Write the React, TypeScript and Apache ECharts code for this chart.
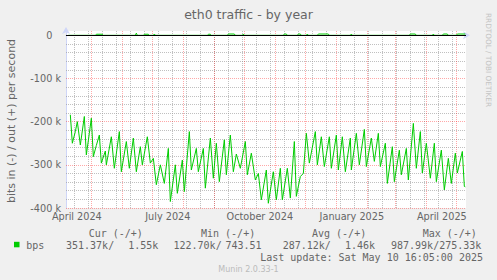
import React, { useEffect, useRef } from "react";
import * as echarts from "echarts";

const START = "2024-04-05T16:05:00Z";
const END = "2025-05-10T16:05:00Z";

const TITLE = "eth0 traffic - by year";
const UNIT_LABEL = "bits in (-) / out (+) per second";
const WATERMARK = "RRDTOOL / TOBI OETIKER";
const VERSION = "Munin 2.0.33-1";

// daily-average "in" traffic (kbit/s, drawn negative)
const inDates = [
  "2024-04-10", "2024-04-12", "2024-04-15", "2024-04-17", "2024-04-20", "2024-04-24", "2024-04-26", "2024-04-29",
  "2024-05-01", "2024-05-03", "2024-05-06", "2024-05-09", "2024-05-11", "2024-05-15", "2024-05-16", "2024-05-21", "2024-05-24", "2024-05-29", "2024-05-31",
  "2024-06-05", "2024-06-08", "2024-06-12", "2024-06-15", "2024-06-19", "2024-06-21", "2024-06-26", "2024-06-29",
  "2024-07-02", "2024-07-05", "2024-07-09", "2024-07-13", "2024-07-17", "2024-07-19", "2024-07-24", "2024-07-26", "2024-07-31",
  "2024-08-02", "2024-08-07", "2024-08-09", "2024-08-14", "2024-08-16", "2024-08-21", "2024-08-23", "2024-08-28", "2024-08-31",
  "2024-09-03", "2024-09-06", "2024-09-11", "2024-09-13", "2024-09-17", "2024-09-20", "2024-09-23", "2024-09-27",
  "2024-10-02", "2024-10-04", "2024-10-08", "2024-10-12", "2024-10-15", "2024-10-18", "2024-10-23", "2024-10-25", "2024-10-30",
  "2024-11-02", "2024-11-06", "2024-11-08", "2024-11-13", "2024-11-16", "2024-11-20", "2024-11-22", "2024-11-26", "2024-11-29",
  "2024-12-02", "2024-12-05", "2024-12-11", "2024-12-13", "2024-12-17", "2024-12-20", "2024-12-25", "2024-12-27",
  "2025-01-01", "2025-01-03", "2025-01-07", "2025-01-10", "2025-01-15", "2025-01-16", "2025-01-21", "2025-01-24", "2025-01-29", "2025-01-31",
  "2025-02-05", "2025-02-08", "2025-02-12", "2025-02-14", "2025-02-19", "2025-02-21", "2025-02-26", "2025-02-28",
  "2025-03-05", "2025-03-07", "2025-03-12", "2025-03-14", "2025-03-19", "2025-03-22", "2025-03-26", "2025-03-28",
  "2025-04-01", "2025-04-05", "2025-04-09", "2025-04-11", "2025-04-16", "2025-04-19", "2025-04-23", "2025-04-26", "2025-04-30",
  "2025-05-02", "2025-05-07", "2025-05-09", "2025-05-10",
];
const inValues = [
  -184, -250, -223, -200, -254, -188, -277, -227,
  -192, -281, -255, -231, -296, -268, -300, -235, -308, -223, -316,
  -246, -308, -238, -316, -258, -300, -235, -296,
  -285, -346, -300, -343, -262, -385, -300, -366, -289,
  -362, -223, -312, -262, -316, -262, -354, -238, -331,
  -250, -339, -242, -323, -231, -316, -275, -308,
  -246, -323, -273, -335, -320, -381, -312, -389, -316,
  -381, -308, -381, -308, -377, -246, -373, -327, -320,
  -227, -296, -223, -300, -235, -304, -235, -308,
  -231, -312, -235, -316, -238, -312, -227, -300, -218, -304,
  -238, -292, -227, -304, -250, -343, -258, -339,
  -266, -323, -262, -335, -204, -308, -223, -319,
  -250, -331, -250, -339, -266, -358, -285, -343, -273,
  -319, -269, -350, -351,
];

// daily-average "out" traffic (kbit/s, drawn positive)
const outDates = [
  "2024-04-08", "2024-05-05", "2024-05-06", "2024-05-12", "2024-05-13",
  "2024-06-14", "2024-06-15", "2024-06-16",
  "2024-06-22", "2024-06-23", "2024-06-27", "2024-06-28",
  "2024-07-02", "2024-07-03", "2024-07-04",
  "2024-08-25", "2024-08-26", "2024-08-28", "2024-08-29",
  "2024-09-14", "2024-09-15", "2024-09-21", "2024-09-22",
  "2024-09-29", "2024-09-30", "2024-10-01",
  "2024-11-09", "2024-11-10", "2024-11-12", "2024-11-13",
  "2024-11-23", "2024-11-24", "2024-11-26", "2024-11-27",
  "2024-12-02", "2024-12-03", "2024-12-04",
  "2024-12-13", "2024-12-14", "2024-12-24", "2024-12-25",
  "2025-01-15", "2025-01-16", "2025-01-17",
  "2025-03-15", "2025-03-16", "2025-03-21", "2025-03-22",
  "2025-04-07", "2025-04-08", "2025-04-09",
  "2025-04-17", "2025-04-18", "2025-04-22", "2025-04-23",
  "2025-05-01", "2025-05-02", "2025-05-10",
];
const outValues = [
  0, 0, 2.5, 2.5, 0,
  0, 5, 0,
  0, 2.5, 2.5, 0,
  0, 3, 0,
  0, 2.5, 2.5, 0,
  0, 3, 3, 0,
  0, 3, 0,
  0, 3, 3, 0,
  0, 3, 3, 0,
  0, 3, 0,
  0, 3, 3, 0,
  0, 3, 0,
  0, 3, 3, 0,
  0, 3, 0,
  0, 3, 3, 0,
  0, 3, 3,
];

const monthStarts = [
  "2024-05-01", "2024-06-01", "2024-07-01", "2024-08-01", "2024-09-01", "2024-10-01", "2024-11-01",
  "2024-12-01", "2025-01-01", "2025-02-01", "2025-03-01", "2025-04-01", "2025-05-01",
];
const minorGridDates = [
  "2024-04-14", "2024-04-28", "2024-05-12", "2024-05-26", "2024-06-09", "2024-06-23", "2024-07-07",
  "2024-07-21", "2024-08-04", "2024-08-18", "2024-09-01", "2024-09-15", "2024-09-29", "2024-10-13",
  "2024-10-27", "2024-11-10", "2024-11-24", "2024-12-08", "2024-12-22", "2025-01-05", "2025-01-19",
  "2025-02-02", "2025-02-16", "2025-03-02", "2025-03-16", "2025-03-30", "2025-04-13", "2025-04-27",
];
const xLabelDates = ["2024-04-16T12:00:00Z", "2024-07-16T12:00:00Z", "2024-10-16T12:00:00Z", "2025-01-16T12:00:00Z", "2025-04-16T12:00:00Z"];
const xLabelTexts = ["April 2024", "July 2024", "October 2024", "January 2025", "April 2025"];

const legendHeaders = ["Cur (-/+)", "Min (-/+)", "Avg (-/+)", "Max (-/+)"];
const legendName = "bps";
const legendValues = ["351.37k/", "1.55k", "122.70k/", "743.51", "287.12k/", "1.46k", "987.99k/275.33k"];
const lastUpdate = "Last update: Sat May 10 16:05:00 2025";

const Y_MIN = -400000;
const Y_MAX = 10000;
const Y_MINOR = 20000;
const Y_MAJOR = 100000;

const SANS = "DejaVu Sans";
const MONO = "DejaVu Sans Mono";
const TEXT = "#666666";
const GREEN = "#00cc00";
const AXIS = "#cfd6f8";
const MGRID = "rgba(255,0,0,0.34)";
const GRID = "rgba(150,150,150,0.6)";

const PLOT = { left: 66, top: 31, width: 400, height: 177 };

const ts = (s: string) => Date.parse(s.length === 10 ? s + "T00:00:00Z" : s);

export default function App() {
  const ref = useRef<HTMLDivElement>(null);

  useEffect(() => {
    if (!ref.current) return;
    const chart = echarts.init(ref.current, undefined, { renderer: "svg" });

    const labelTs = xLabelDates.map(ts);
    const yMajorLines: number[] = [];
    const yMinorLines: number[] = [];
    for (let v = Y_MIN; v <= 0; v += Y_MINOR) (v % Y_MAJOR === 0 ? yMajorLines : yMinorLines).push(v);

    const gridMarkLine = (z: number, color: string, xs: number[], ys: number[]) => ({
      z,
      silent: true,
      symbol: "none",
      label: { show: false },
      emphasis: { disabled: true },
      lineStyle: { color, type: [1, 1], width: 1 },
      data: [...xs.map((x) => ({ xAxis: x })), ...ys.map((y) => ({ yAxis: y }))],
    });

    const monoText = (text: string, x: number, y: number, align: string = "left") => ({
      type: "text",
      x,
      y,
      silent: true,
      style: { text, fontFamily: MONO, fontSize: 10, fill: TEXT, align, verticalAlign: "middle" },
    });

    const option: any = {
      animation: false,
      backgroundColor: "#f0f0f0",
      grid: { ...PLOT, show: false, containLabel: false },
      xAxis: {
        type: "value",
        min: ts(START),
        max: ts(END),
        axisLine: {
          show: true,
          lineStyle: { color: AXIS, width: 1 },
          symbol: ["none", "arrow"],
          symbolSize: [6, 7],
          symbolOffset: [0, 4],
        },
        axisTick: { show: false, customValues: monthStarts.map(ts) },
        axisLabel: {
          customValues: labelTs,
          formatter: (v: number) => {
            const i = labelTs.indexOf(v);
            return i >= 0 ? xLabelTexts[i] : "";
          },
          color: TEXT,
          fontFamily: SANS,
          fontSize: 9.7,
          margin: 3,
        },
        splitLine: { show: false },
      },
      yAxis: {
        type: "value",
        min: Y_MIN,
        max: Y_MAX,
        interval: Y_MINOR,
        axisLine: {
          show: true,
          lineStyle: { color: AXIS, width: 1 },
          symbol: ["none", "arrow"],
          symbolSize: [6, 7],
          symbolOffset: [0, 4],
        },
        axisTick: { show: false },
        axisLabel: {
          formatter: (v: number) => {
            if (v > 0 || v % Y_MAJOR !== 0) return "";
            if (v === 0) return "{z|0}";
            return `${v / 1000} k`;
          },
          color: TEXT,
          fontFamily: SANS,
          fontSize: 9.7,
          margin: 5,
          rich: { z: { color: TEXT, fontFamily: SANS, fontSize: 9.7, padding: [0, 8.7, 0, 0] } },
        },
        splitLine: { show: false },
      },
      series: [
        {
          name: "grid-minor",
          type: "line",
          data: [],
          silent: true,
          markLine: gridMarkLine(3, GRID, minorGridDates.map(ts), yMinorLines),
        },
        {
          name: "grid-major",
          type: "line",
          data: [],
          silent: true,
          markLine: gridMarkLine(4, MGRID, monthStarts.map(ts), yMajorLines),
        },
        {
          name: "in",
          type: "line",
          data: inDates.map((d, i) => [ts(d), inValues[i] * 1000]),
          showSymbol: false,
          symbol: "none",
          lineStyle: { color: GREEN, width: 1 },
          silent: true,
          z: 6,
        },
        {
          name: "out",
          type: "line",
          data: outDates.map((d, i) => [ts(d), outValues[i] * 1000]),
          showSymbol: false,
          symbol: "none",
          lineStyle: { color: GREEN, width: 1 },
          silent: true,
          z: 6,
          markLine: {
            z: 7,
            silent: true,
            symbol: "none",
            label: { show: false },
            emphasis: { disabled: true },
            lineStyle: { color: "#000000", type: "solid", width: 1 },
            data: [{ yAxis: 0 }],
          },
        },
      ],
      graphic: [
        {
          type: "rect",
          silent: true,
          z: -10,
          shape: { x: PLOT.left, y: PLOT.top, width: PLOT.width, height: PLOT.height },
          style: { fill: "#ffffff" },
        },
        {
          type: "text",
          x: 248.5,
          y: 14,
          silent: true,
          style: { text: TITLE, fontFamily: SANS, fontSize: 12.5, fill: TEXT, align: "center", verticalAlign: "middle" },
        },
        {
          type: "text",
          x: 11.5,
          y: 121,
          rotation: Math.PI / 2,
          silent: true,
          style: { text: UNIT_LABEL, fontFamily: SANS, fontSize: 11, fill: TEXT, align: "center", verticalAlign: "middle" },
        },
        {
          type: "text",
          x: 488,
          y: 60,
          rotation: -Math.PI / 2,
          silent: true,
          style: { text: WATERMARK, fontFamily: SANS, fontSize: 7.3, fill: "#c4c4c4", align: "center", verticalAlign: "middle" },
        },
        monoText(legendHeaders[0], 88.7, 233.5),
        monoText(legendHeaders[1], 201, 233.5),
        monoText(legendHeaders[2], 312, 233.5),
        monoText(legendHeaders[3], 422.7, 233.5),
        {
          type: "rect",
          silent: true,
          shape: { x: 14, y: 241.8, width: 5.5, height: 5.5 },
          style: { fill: GREEN },
        },
        monoText(legendName, 26.3, 245),
        monoText(legendValues[0], 66, 245),
        monoText(legendValues[1], 158.3, 245, "right"),
        monoText(legendValues[2], 173.5, 245),
        monoText(legendValues[3], 225.5, 245),
        monoText(legendValues[4], 282.7, 245),
        monoText(legendValues[5], 375, 245, "right"),
        monoText(legendValues[6], 391, 245),
        monoText(lastUpdate, 483, 257.5, "right"),
        {
          type: "text",
          x: 248.5,
          y: 269,
          silent: true,
          style: { text: VERSION, fontFamily: SANS, fontSize: 8, fill: "#bbbbbb", align: "center", verticalAlign: "middle" },
        },
      ],
    };

    chart.setOption(option);
    return () => chart.dispose();
  }, []);

  return <div ref={ref} style={{ position: "absolute", left: 0, top: 0, width: 497, height: 280 }} />;
}
